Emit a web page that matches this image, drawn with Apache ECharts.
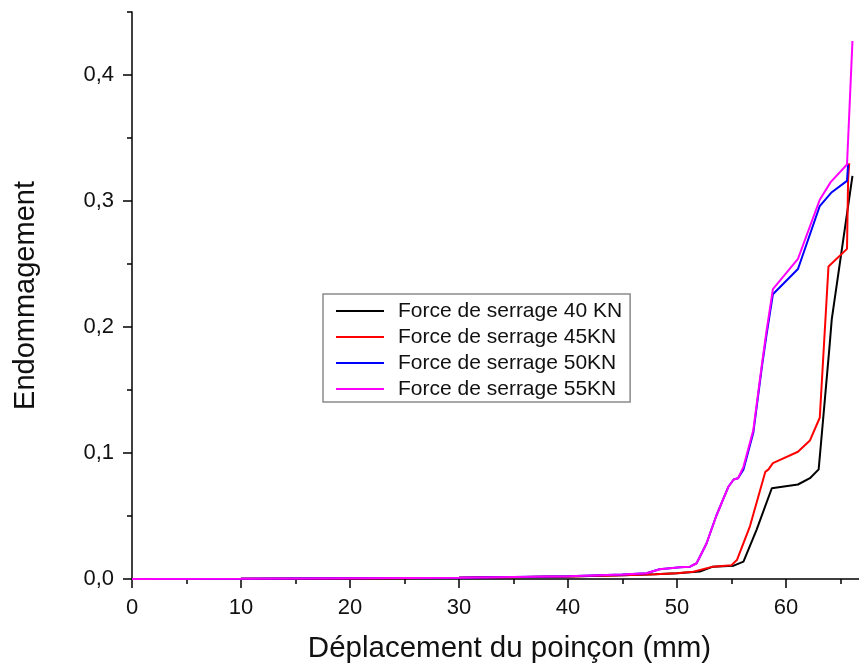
<!DOCTYPE html>
<html>
<head>
<meta charset="utf-8">
<script src="https://cdn.jsdelivr.net/npm/echarts@6/dist/echarts.min.js"></script>
<style>
  html, body { margin: 0; padding: 0; background: #fff; }
  #chart { width: 859px; height: 669px; }
</style>
</head>
<body>
<div id="chart"></div>
<script>
// Punch displacement (mm) and damage for each clamping force
const seriesNames = [
  'Force de serrage 40 KN',
  'Force de serrage 45KN',
  'Force de serrage 50KN',
  'Force de serrage 55KN'
];
const seriesColors = ['#000000', '#ff0000', '#0000ff', '#ff00ff'];

const disp40 = [0, 10, 20, 30, 40, 45, 48, 50, 52.1, 53.3, 55.2, 56.1, 57.3, 58.7, 61.1, 62.2, 63.0, 63.4, 64.0, 64.2, 66.1];
const dmg40  = [0, 0.0001, 0.0004, 0.0009, 0.002, 0.003, 0.0038, 0.0045, 0.006, 0.0098, 0.0106, 0.0138, 0.039, 0.072, 0.075, 0.080, 0.087, 0.126, 0.185, 0.206, 0.320];

const disp45 = [0, 10, 20, 30, 40, 45, 48, 50, 51.5, 53.3, 55.0, 55.5, 56.7, 58.1, 58.4, 58.8, 61.1, 62.2, 63.0, 63.1, 63.9, 65.6, 65.7, 65.8];
const dmg45  = [0, 0.0001, 0.0004, 0.0009, 0.002, 0.003, 0.0038, 0.0045, 0.0058, 0.0098, 0.011, 0.015, 0.042, 0.085, 0.087, 0.092, 0.101, 0.110, 0.126, 0.128, 0.248, 0.262, 0.317, 0.330];

const disp50 = [0, 10, 20, 30, 40, 45, 47.2, 48.4, 50.3, 51.2, 51.8, 52.7, 53.6, 54.7, 55.2, 55.6, 56.1, 57.0, 57.8, 58.2, 58.8, 61.1, 63.1, 64.2, 65.6, 65.7];
const dmg50  = [0, 0.0002, 0.0005, 0.001, 0.0022, 0.0035, 0.0045, 0.0077, 0.0093, 0.0098, 0.0125, 0.028, 0.050, 0.073, 0.079, 0.080, 0.087, 0.116, 0.169, 0.193, 0.226, 0.246, 0.296, 0.307, 0.316, 0.329];

const disp55 = [0, 10, 20, 30, 40, 45, 47.2, 48.4, 50.3, 51.2, 51.8, 52.7, 53.6, 54.7, 55.2, 55.6, 56.1, 57.0, 57.8, 58.2, 58.8, 61.1, 63.1, 64.1, 65.6, 66.1];
const dmg55  = [0, 0.0002, 0.0005, 0.001, 0.0022, 0.0035, 0.0045, 0.0077, 0.0093, 0.0098, 0.0125, 0.028, 0.050, 0.073, 0.079, 0.080, 0.089, 0.118, 0.171, 0.196, 0.230, 0.254, 0.301, 0.315, 0.329, 0.427];

// Axis ticks and labels
const xMajorTicks = [0, 10, 20, 30, 40, 50, 60];
const xMinorTicks = [5, 15, 25, 35, 45, 55, 65];
const yMajorTicks = [0, 0.1, 0.2, 0.3, 0.4];
const yMinorTicks = [0.05, 0.15, 0.25, 0.35, 0.45];

const FONT = '"Liberation Sans", Arial, sans-serif';
const pairs = (xs, ys) => xs.map((x, i) => [x, ys[i]]);
const seriesData = [pairs(disp40, dmg40), pairs(disp45, dmg45), pairs(disp50, dmg50), pairs(disp55, dmg55)];

const axisLineStyle = { color: '#000', width: 1.5 };
const X_MIN = 0, X_MAX = 66.7, Y_MIN = 0, Y_MAX = 0.45;

const chart = echarts.init(document.getElementById('chart'), null, { renderer: 'canvas' });
chart.setOption({
  backgroundColor: '#fff',
  animation: false,
  grid: { left: 132, right: 0, top: 12, bottom: 90, containLabel: false },
  legend: {
    orient: 'vertical',
    left: 323, top: 294,
    padding: [6, 8, 2, 13],
    backgroundColor: '#fff',
    borderColor: '#8a8a8a', borderWidth: 1.5,
    itemWidth: 48, itemHeight: 2, itemGap: 4,
    icon: 'rect',
    textStyle: { fontFamily: FONT, fontSize: 21, color: '#111', lineHeight: 22, padding: [0, 0, 0, 9] },
    data: seriesNames
  },
  xAxis: [{
    type: 'value', min: X_MIN, max: X_MAX,
    name: 'Déplacement du poinçon (mm)', nameLocation: 'middle', nameGap: 55,
    nameTextStyle: { fontFamily: FONT, fontSize: 29.5, color: '#111', padding: [0, 0, 0, 28] },
    axisLine: { show: true, lineStyle: axisLineStyle },
    axisTick: { show: true, inside: false, length: 9, lineStyle: axisLineStyle, customValues: xMajorTicks },
    axisLabel: { fontFamily: FONT, fontSize: 22, color: '#111', margin: 18, customValues: xMajorTicks },
    splitLine: { show: false }
  }, {
    type: 'value', min: X_MIN, max: X_MAX, position: 'bottom',
    axisLine: { show: false },
    axisTick: { show: true, inside: false, length: 5, lineStyle: axisLineStyle, customValues: xMinorTicks },
    axisLabel: { show: false },
    splitLine: { show: false }
  }],
  yAxis: [{
    type: 'value', min: Y_MIN, max: Y_MAX,
    name: 'Endommagement', nameLocation: 'middle', nameGap: 92, nameRotate: 90,
    nameTextStyle: { fontFamily: FONT, fontSize: 29, color: '#111' },
    axisLine: { show: true, lineStyle: axisLineStyle },
    axisTick: { show: true, inside: false, length: 9, lineStyle: axisLineStyle, customValues: yMajorTicks },
    axisLabel: {
      fontFamily: FONT, fontSize: 22, color: '#111', margin: 18, customValues: yMajorTicks,
      formatter: v => v.toFixed(1).replace('.', ',')
    },
    splitLine: { show: false }
  }, {
    type: 'value', min: Y_MIN, max: Y_MAX, position: 'left',
    axisLine: { show: false },
    axisTick: { show: true, inside: false, length: 5, lineStyle: axisLineStyle, customValues: yMinorTicks },
    axisLabel: { show: false },
    splitLine: { show: false }
  }],
  series: seriesNames.map((name, i) => ({
    name,
    type: 'line',
    xAxisIndex: 0, yAxisIndex: 0,
    data: seriesData[i],
    showSymbol: false, symbol: 'none',
    lineStyle: { color: seriesColors[i], width: 2 },
    itemStyle: { color: seriesColors[i] },
    z: 2 + i
  }))
});
</script>
</body>
</html>
